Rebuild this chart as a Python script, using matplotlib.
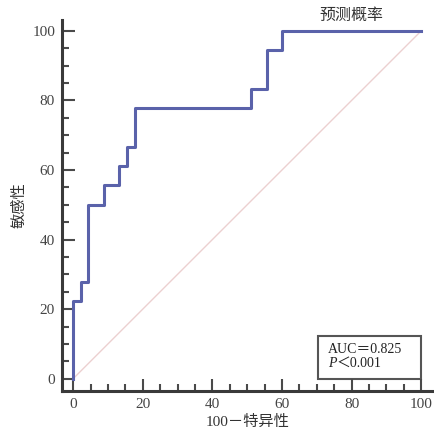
import matplotlib
matplotlib.use('Agg')
import matplotlib.pyplot as plt
from matplotlib.patches import Rectangle
from matplotlib.ticker import MultipleLocator

plt.rcParams['font.family'] = ['Liberation Serif', 'Noto Sans CJK SC']

# ROC step points (100 - specificity, sensitivity)
fpr = [0, 0, 2.2, 2.2, 4.4, 4.4, 8.9, 8.9, 13.3, 13.3, 15.6, 15.6, 17.8, 17.8,
       51.1, 51.1, 55.6, 55.6, 60.0, 60.0, 100]
tpr = [0, 22.2, 22.2, 27.8, 27.8, 50.0, 50.0, 55.6, 55.6, 61.1, 61.1, 66.7, 66.7, 77.8,
       77.8, 83.3, 83.3, 94.4, 94.4, 100, 100]
ref_line = [0, 100]
ticks = [0, 20, 40, 60, 80, 100]

auc_text = 'AUC＝0.825'
p_text = '＜0.001'
series_name = '预测概率'

fig = plt.figure(figsize=(4.34, 4.32), dpi=100)
ax = fig.add_axes([0.1429, 0.0956, 0.855, 0.858])

ax.plot(ref_line, ref_line, color='#ecd0d0', lw=1.0)
ax.plot(fpr, tpr, color='#5a62aa', lw=2.2)

ax.set_xlim(-3.2, 103.4)
ax.set_ylim(-3.45, 103.1)

for s in ['top', 'right']:
    ax.spines[s].set_visible(False)
for s in ['left', 'bottom']:
    ax.spines[s].set_color('#3a3a3a')
    ax.spines[s].set_linewidth(2.2)

ax.set_xticks(ticks)
ax.set_yticks(ticks)
ax.xaxis.set_minor_locator(MultipleLocator(5))
ax.yaxis.set_minor_locator(MultipleLocator(5))
ax.tick_params(which='major', direction='in', length=9, width=1.5, color='#4a4a4a',
               labelsize=11, labelcolor='#444444', pad=5)
ax.tick_params(which='minor', direction='in', length=5, width=1.5, color='#4a4a4a')

ax.set_xlabel('100－特异性', fontsize=11, color='#333333', labelpad=3)
ax.set_ylabel('敏感性', fontsize=11, color='#333333', labelpad=4)

ax.text(80, 104.3, series_name, fontsize=11.5, color='#333333', ha='center', va='center',
        clip_on=False)

ax.add_patch(Rectangle((70.2, -0.2), 29.8, 12.5, fill=False, edgecolor='#555555', lw=1.5,
                       clip_on=False))
ax.text(73.1, 8.5, auc_text, fontsize=10, color='#222222', va='center')
pt = ax.text(73.1, 4.4, 'P', fontsize=10, color='#222222', va='center', style='italic')
ax.annotate(p_text, xy=(1, 0.5), xycoords=pt, va='center', ha='left', fontsize=10,
            color='#222222')

fig.savefig('out.png', dpi=100)
